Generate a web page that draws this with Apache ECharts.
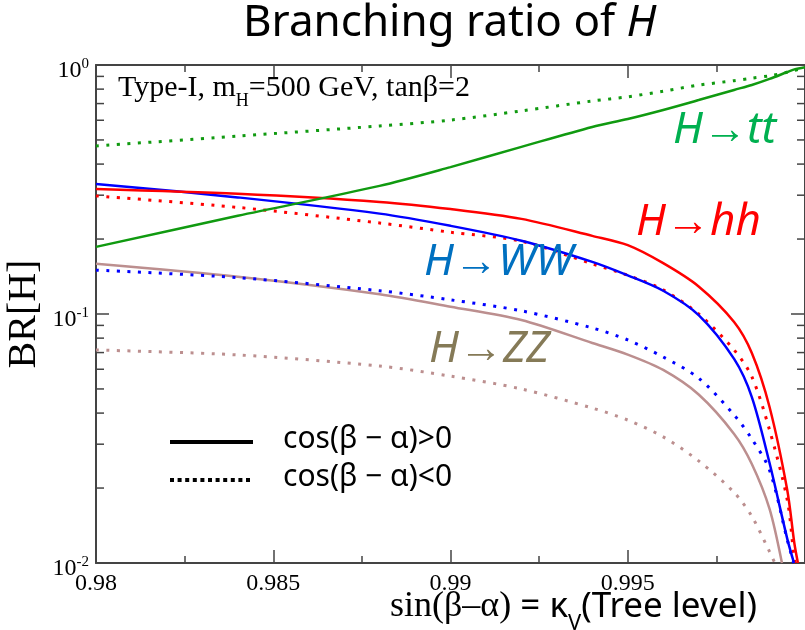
<!DOCTYPE html>
<html>
<head>
<meta charset="utf-8">
<script src="https://cdn.jsdelivr.net/npm/echarts@6/dist/echarts.min.js"></script>
<style>
  html, body { margin: 0; padding: 0; background: #fff; }
  #chart { width: 805px; height: 630px; }
</style>
</head>
<body>
<div id="chart"></div>
<script>
// sin(beta - alpha) sampling points shared by all curves
const kappaV = [0.98, 0.984, 0.988, 0.99, 0.992, 0.994, 0.995, 0.996, 0.997, 0.998, 0.9985, 0.999, 0.9995, 0.9997, 1.0];

// Branching ratios, "Plus" = cos(beta-alpha) > 0, "Minus" = cos(beta-alpha) < 0
const ttPlus  = [0.186, 0.248, 0.327, 0.389, 0.469, 0.564, 0.607, 0.660, 0.723, 0.794, 0.831, 0.879, 0.937, 0.960, 0.98];
const ttMinus = [0.473, 0.518, 0.569, 0.601, 0.654, 0.717, 0.745, 0.785, 0.830, 0.865, 0.885, 0.905, 0.935, 0.950, 0.98];
const hhPlus  = [0.318, 0.304, 0.282, 0.264, 0.241, 0.206, 0.189, 0.160, 0.129, 0.0929, 0.0697, 0.0423, 0.0196, 0.0120, null];
const hhMinus = [0.298, 0.268, 0.232, 0.213, 0.196, 0.159, 0.143, 0.125, 0.100, 0.0717, 0.0560, 0.0342, 0.0179, 0.0103, null];
const wwPlus  = [0.333, 0.294, 0.253, 0.226, 0.197, 0.162, 0.143, 0.124, 0.099, 0.066, 0.0464, 0.0252, 0.0125, null, null];
const wwMinus = [0.150, 0.140, 0.124, 0.114, 0.103, 0.0879, 0.0787, 0.0672, 0.0553, 0.0393, 0.0315, 0.0236, 0.0124, null, null];
const zzPlus  = [0.159, 0.141, 0.120, 0.107, 0.0946, 0.0765, 0.0687, 0.0596, 0.0475, 0.033, 0.025, 0.0165, null, null, null];
const zzMinus = [0.0717, 0.0685, 0.0618, 0.0563, 0.050, 0.0419, 0.0375, 0.0321, 0.0257, 0.0192, 0.0154, 0.0111, null, null, null];

// where each falling curve leaves the bottom of the frame (BR = 0.01)
const axisFloor = 0.01;
const hhPlusEnd = 0.9998, hhMinusEnd = 0.99973;
const wwPlusEnd = 0.99969, wwMinusEnd = 0.99968;
const zzPlusEnd = 0.99935, zzMinusEnd = 0.99915;

// 2..9 minor ticks of the log axis
const logMinorTicks = [0.02, 0.03, 0.04, 0.05, 0.06, 0.07, 0.08, 0.09, 0.2, 0.3, 0.4, 0.5, 0.6, 0.7, 0.8, 0.9];

function pairs(ys, endX) {
  const out = [];
  ys.forEach((y, i) => { if (y !== null) out.push([kappaV[i], y]); });
  if (endX !== undefined) out.push([endX, axisFloor]);
  return out;
}

const SERIF = '"Liberation Serif", "Times New Roman", serif';
const SANS = '"Noto Sans", "Open Sans", sans-serif';

const GREEN = '#109a10', RED = '#ff0000', BLUE = '#0000ff', BROWN = '#bc8f8f';
const dotted = [3, 7.5];

function curve(name, data, color, isDotted) {
  return {
    name: name,
    type: 'line',
    data: data,
    smooth: 0.3,
    showSymbol: false,
    symbol: 'none',
    silent: true,
    clip: true,
    lineStyle: isDotted
      ? { color: color, width: 3, type: dotted, cap: 'butt' }
      : { color: color, width: 2.5 }
  };
}

const chart = echarts.init(document.getElementById('chart'), null, { renderer: 'canvas' });

const axisColor = '#444';

const option = {
  backgroundColor: '#ffffff',
  animation: false,
  title: {
    text: 'Branching ratio of {i|H}',
    left: 238,
    top: -4,
    textStyle: {
      fontFamily: SANS, fontSize: 44, fontWeight: 'normal', color: '#000',
      rich: { i: { fontFamily: SANS, fontSize: 44, fontStyle: 'italic', color: '#000' } }
    }
  },
  grid: { left: 96, top: 65, right: 0, bottom: 67, containLabel: false, outerBoundsMode: 'none' },
  xAxis: [
    {
      type: 'value', min: 0.98, max: 1.0, interval: 0.005, position: 'bottom',
      axisLine: { show: true, lineStyle: { color: axisColor, width: 2 } },
      axisTick: { show: true, inside: true, length: 13, lineStyle: { color: axisColor, width: 1.5 } },
      minorTick: { show: true, splitNumber: 2, length: 7, lineStyle: { color: axisColor, width: 1.5 } },
      splitLine: { show: false },
      axisLabel: {
        showMaxLabel: false, margin: 9, color: '#000', fontFamily: SERIF, fontSize: 24,
        formatter: v => String(+v.toFixed(3))
      }
    },
    {
      type: 'value', min: 0.98, max: 1.0, interval: 0.005, position: 'top',
      axisLine: { show: true, lineStyle: { color: axisColor, width: 2 } },
      axisTick: { show: true, inside: true, length: 13, lineStyle: { color: axisColor, width: 1.5 } },
      minorTick: { show: true, splitNumber: 2, length: 7, lineStyle: { color: axisColor, width: 1.5 } },
      splitLine: { show: false },
      axisLabel: { show: false }
    }
  ],
  yAxis: [
    {
      type: 'log', logBase: 10, min: 0.01, max: 1, position: 'left',
      name: 'BR[H]', nameLocation: 'middle', nameGap: 52, nameRotate: 90, nameMoveOverlap: false,
      nameTextStyle: { fontFamily: SERIF, fontSize: 40, color: '#000' },
      axisLine: { show: true, lineStyle: { color: axisColor, width: 2 } },
      axisTick: { show: true, inside: true, length: 13, lineStyle: { color: axisColor, width: 1.5 } },
      splitLine: { show: false },
      axisLabel: {
        margin: 7, color: '#000', padding: [10, 0, 0, 0],
        formatter: v => '{b|10}{s|' + Math.round(Math.log10(v)) + '}',
        rich: {
          b: { fontFamily: SERIF, fontSize: 24, color: '#000', verticalAlign: 'bottom', lineHeight: 26 },
          s: { fontFamily: SERIF, fontSize: 15, color: '#000', verticalAlign: 'top', lineHeight: 15 }
        }
      }
    },
    {
      type: 'log', logBase: 10, min: 0.01, max: 1, position: 'right',
      axisLine: { show: true, lineStyle: { color: axisColor, width: 2 } },
      axisTick: { show: true, inside: true, length: 14, lineStyle: { color: axisColor, width: 1.5 } },
      splitLine: { show: false },
      axisLabel: { show: false }
    }
  ],
  series: [
    {
      type: 'custom',
      silent: true,
      clip: false,
      data: logMinorTicks.map(v => [0.98, v]),
      renderItem: function (params, api) {
        const v = api.value(1);
        const l = api.coord([0.98, v]);
        const r = api.coord([1.0, v]);
        const st = { stroke: axisColor, lineWidth: 1.5 };
        return {
          type: 'group',
          children: [
            { type: 'line', shape: { x1: l[0], y1: l[1], x2: l[0] + 8, y2: l[1] }, style: st },
            { type: 'line', shape: { x1: r[0], y1: r[1], x2: r[0] - 8, y2: r[1] }, style: st }
          ]
        };
      },
      z: 3
    },
    curve('H→ZZ, cos<0', pairs(zzMinus, zzMinusEnd), BROWN, true),
    curve('H→ZZ, cos>0', pairs(zzPlus, zzPlusEnd), BROWN, false),
    curve('H→WW, cos<0', pairs(wwMinus, wwMinusEnd), BLUE, true),
    curve('H→hh, cos<0', pairs(hhMinus, hhMinusEnd), RED, true),
    curve('H→WW, cos>0', pairs(wwPlus, wwPlusEnd), BLUE, false),
    curve('H→hh, cos>0', pairs(hhPlus, hhPlusEnd), RED, false),
    curve('H→tt, cos<0', pairs(ttMinus), GREEN, true),
    curve('H→tt, cos>0', pairs(ttPlus), GREEN, false)
  ],
  graphic: [
    {
      type: 'text', x: 118, y: 72, z: 10,
      style: {
        text: '{a|Type-I, m}{s|H}{a|=500 GeV, tanβ=2}',
        rich: {
          a: { fontFamily: SERIF, fontSize: 30, fill: '#000', lineHeight: 32, verticalAlign: 'middle' },
          s: { fontFamily: SERIF, fontSize: 18, fill: '#000', lineHeight: 32, verticalAlign: 'bottom', padding: [0, 0, -6, 0] }
        }
      }
    },
    {
      type: 'text', x: 390, y: 587, z: 10,
      style: {
        text: '{a|sin(β–α)}{b| = κ}{c|V}{b|(Tree level)}',
        rich: {
          a: { fontFamily: SERIF, fontSize: 36, fill: '#000', lineHeight: 40, verticalAlign: 'middle' },
          b: { fontFamily: SANS, fontSize: 35, fill: '#000', lineHeight: 40, verticalAlign: 'middle' },
          c: { fontFamily: SANS, fontSize: 22, fill: '#000', lineHeight: 40, verticalAlign: 'bottom', padding: [0, 0, -8, 0] }
        }
      }
    },
    { type: 'text', x: 673, y: 108, z: 10,
      style: { text: 'H→tt', font: 'italic 44px "Noto Sans"', fill: '#00b050' } },
    { type: 'text', x: 636, y: 200, z: 10,
      style: { text: 'H→hh', font: 'italic 44px "Noto Sans"', fill: '#ff0000' } },
    { type: 'text', x: 424, y: 240, z: 10,
      style: { text: 'H→WW', font: 'italic 44px "Noto Sans"', fill: '#0070c0' } },
    { type: 'text', x: 429, y: 327, z: 10,
      style: { text: 'H→ZZ', font: 'italic 44px "Noto Sans"', fill: '#857a57' } },
    // line-style key
    { type: 'line', z: 10, shape: { x1: 170, y1: 442, x2: 253, y2: 442 },
      style: { stroke: '#000', lineWidth: 4 } },
    { type: 'line', z: 10, shape: { x1: 170, y1: 480, x2: 253, y2: 480 },
      style: { stroke: '#000', lineWidth: 4, lineDash: [4, 3.6] } },
    { type: 'text', x: 283, y: 424, z: 10,
      style: { text: 'cos(β − α)>0', font: '30px "Noto Sans"', fill: '#000' } },
    { type: 'text', x: 283, y: 462, z: 10,
      style: { text: 'cos(β − α)<0', font: '30px "Noto Sans"', fill: '#000' } }
  ]
};

chart.setOption(option);
</script>
</body>
</html>
